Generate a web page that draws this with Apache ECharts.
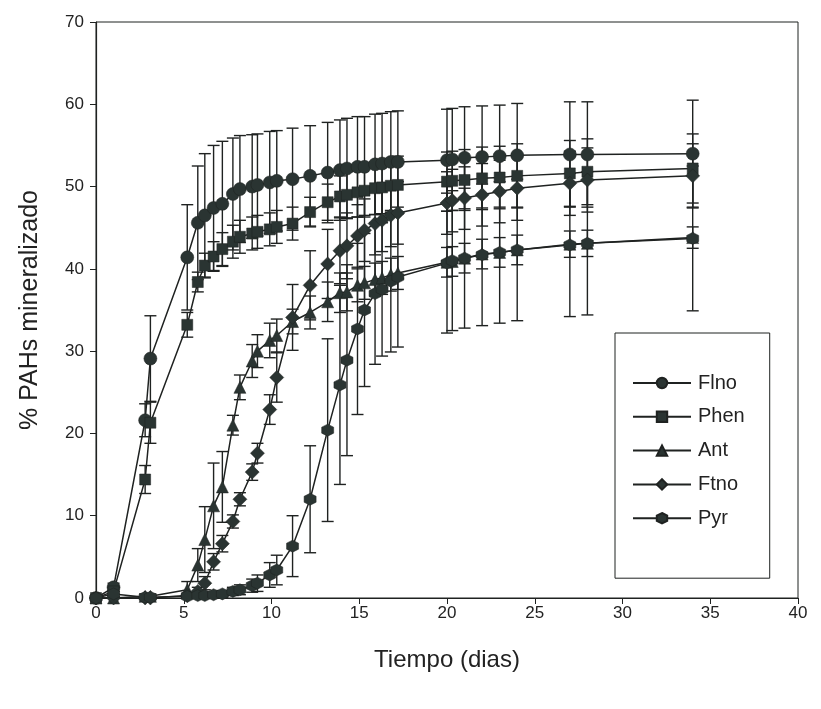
<!DOCTYPE html>
<html>
<head>
<meta charset="utf-8">
<script src="https://cdn.jsdelivr.net/npm/echarts@6/dist/echarts.min.js"></script>
<style>
html,body{margin:0;padding:0;background:#fff;}
#chart{width:821px;height:709px;}
</style>
</head>
<body>
<div id="chart"></div>
<script>
// Time points (dias)
const dias = [0, 1, 2.8, 3.1, 5.2, 5.8, 6.2, 6.7, 7.2, 7.8, 8.2, 8.9, 9.2, 9.9, 10.3, 11.2, 12.2, 13.2, 13.9, 14.3, 14.9, 15.3, 15.9, 16.3, 16.8, 17.2, 20, 20.3, 21, 22, 23, 24, 27, 28, 34];

const flno    = [0, 1.3, 21.6, 29.1, 41.4, 45.6, 46.5, 47.4, 47.9, 49.1, 49.7, 50.0, 50.2, 50.5, 50.7, 50.9, 51.3, 51.7, 52.0, 52.2, 52.4, 52.4, 52.7, 52.8, 53.0, 53.0, 53.2, 53.3, 53.5, 53.6, 53.7, 53.8, 53.9, 53.9, 54.0];
const flnoErr = [0, 0.5, 2.0, 5.2, 6.4, 6.9, 7.5, 7.6, 7.6, 6.8, 6.5, 6.3, 6.2, 6.2, 6.1, 6.2, 6.1, 6.1, 6.1, 6.1, 6.1, 6.1, 6.1, 6.1, 6.1, 6.2, 6.2, 6.2, 6.2, 6.2, 6.2, 6.3, 6.4, 6.4, 6.5];

const phen    = [0, 0.8, 14.4, 21.3, 33.2, 38.4, 40.4, 41.5, 42.4, 43.3, 43.9, 44.3, 44.5, 44.8, 45.1, 45.5, 46.9, 48.1, 48.8, 49.0, 49.3, 49.5, 49.8, 49.9, 50.1, 50.2, 50.6, 50.7, 50.8, 51.0, 51.1, 51.3, 51.6, 51.8, 52.2];
const phenErr = [0, 0.3, 1.7, 2.5, 1.5, 1.2, 1.5, 1.8, 2.0, 2.0, 2.0, 2.0, 2.0, 2.0, 2.0, 2.0, 1.8, 2.2, 2.5, 2.8, 3.0, 3.0, 3.2, 3.2, 3.3, 3.5, 3.6, 3.6, 3.7, 3.8, 3.8, 3.9, 4.0, 4.0, 4.2];

const ant     = [0, 0, 0.2, 0.2, 1.0, 4.0, 7.1, 11.2, 13.5, 21.0, 25.6, 28.8, 30.0, 31.3, 31.9, 33.6, 34.7, 36.0, 37.1, 37.2, 38.0, 38.3, 38.7, 38.9, 39.3, 39.5, 40.8, 40.9, 41.3, 41.8, 42.0, 42.3, 43.0, 43.1, 43.8];
const antErr  = [0, 0, 0.3, 0.3, 1.0, 2.0, 4.0, 5.2, 4.3, 1.2, 1.5, 2.0, 2.0, 2.1, 2.0, 1.5, 2.0, 2.4, 2.4, 2.3, 2.0, 2.0, 2.0, 2.0, 2.0, 2.0, 1.8, 1.8, 1.8, 1.8, 1.8, 1.8, 1.6, 1.6, 1.3];

const ftno    = [0, 0, 0, 0, 0.3, 0.8, 1.8, 4.4, 6.6, 9.3, 12.0, 15.3, 17.6, 22.9, 26.8, 34.1, 38.0, 40.6, 42.2, 42.8, 44.0, 44.7, 45.5, 45.9, 46.5, 46.8, 48.0, 48.3, 48.6, 49.0, 49.4, 49.8, 50.4, 50.8, 51.3];
const ftnoErr = [0, 0, 0, 0, 0.3, 0.5, 0.8, 1.0, 1.0, 0.8, 0.8, 1.0, 1.2, 1.8, 3.0, 4.0, 4.2, 4.2, 4.0, 4.0, 3.8, 3.8, 3.8, 3.8, 3.8, 3.8, 3.8, 3.8, 3.8, 3.8, 3.8, 3.9, 3.9, 3.9, 3.9];

const pyr     = [0, 0.5, 0.1, 0.1, 0.2, 0.3, 0.3, 0.4, 0.5, 0.8, 1.0, 1.5, 1.8, 2.8, 3.4, 6.3, 12.0, 20.4, 25.9, 28.9, 32.7, 35.0, 37.0, 37.5, 38.5, 39.0, 40.7, 41.0, 41.3, 41.7, 42.0, 42.3, 42.9, 43.1, 43.7];
const pyrErr  = [0, 0.3, 0, 0, 0.2, 0.2, 0.2, 0.3, 0.4, 0.5, 0.6, 0.8, 1.0, 1.5, 1.8, 3.7, 6.5, 11.1, 12.1, 11.6, 10.4, 9.3, 8.6, 8.1, 8.6, 8.5, 8.5, 8.5, 8.5, 8.6, 8.6, 8.6, 8.7, 8.7, 8.8];

const xTicks = [0, 5, 10, 15, 20, 25, 30, 35, 40];
const yTicks = [0, 10, 20, 30, 40, 50, 60, 70];

const FONT = '"Liberation Sans", Arial, sans-serif';
const LINE = '#1f2221';
const MARK = '#2a3432';
const HEX = 'path://M0,-10L8.66,-5L8.66,5L0,10L-8.66,5L-8.66,-5Z';

const seriesDefs = [
  {name: 'Flno', vals: flno, err: flnoErr, symbol: 'circle', size: 13},
  {name: 'Phen', vals: phen, err: phenErr, symbol: 'rect', size: 11},
  {name: 'Ant',  vals: ant,  err: antErr,  symbol: 'triangle', size: 12},
  {name: 'Ftno', vals: ftno, err: ftnoErr, symbol: 'diamond', size: 14},
  {name: 'Pyr',  vals: pyr,  err: pyrErr,  symbol: HEX, size: 12}
];

function renderErr(params, api) {
  const x = api.value(0), lo = api.value(1), hi = api.value(2);
  if (hi - lo < 0.05) return null;
  const p1 = api.coord([x, hi]);
  const p2 = api.coord([x, lo]);
  const hw = 6;
  const style = {stroke: LINE, lineWidth: 1.4, fill: null};
  return {
    type: 'group',
    children: [
      {type: 'line', shape: {x1: p1[0], y1: p1[1], x2: p2[0], y2: p2[1]}, style: style},
      {type: 'line', shape: {x1: p1[0] - hw, y1: p1[1], x2: p1[0] + hw, y2: p1[1]}, style: style},
      {type: 'line', shape: {x1: p2[0] - hw, y1: p2[1], x2: p2[0] + hw, y2: p2[1]}, style: style}
    ]
  };
}

const series = [];
seriesDefs.forEach(function (d) {
  series.push({
    type: 'custom',
    name: d.name + '_err',
    renderItem: renderErr,
    encode: {x: 0, y: [1, 2]},
    data: dias.map(function (t, i) { return [t, d.vals[i] - d.err[i], d.vals[i] + d.err[i]]; }),
    z: 1,
    silent: true,
    clip: false
  });
});
seriesDefs.forEach(function (d) {
  series.push({
    type: 'line',
    name: d.name,
    data: dias.map(function (t, i) { return [t, d.vals[i]]; }),
    symbol: d.symbol,
    symbolSize: d.size,
    showAllSymbol: true,
    lineStyle: {color: LINE, width: 1.5},
    itemStyle: {color: MARK, borderColor: LINE, borderWidth: 0.5},
    z: 3,
    animation: false
  });
});

const chart = echarts.init(document.getElementById('chart'), null, {renderer: 'canvas'});
chart.setOption({
  backgroundColor: '#ffffff',
  animation: false,
  grid: {
    left: 96, right: 23, top: 22, bottom: 111,
    show: true, borderColor: LINE, borderWidth: 1, backgroundColor: 'transparent'
  },
  xAxis: {
    type: 'value',
    min: xTicks[0], max: xTicks[xTicks.length - 1], interval: 5,
    name: 'Tiempo (dias)',
    nameLocation: 'middle',
    nameGap: 50,
    nameTextStyle: {fontFamily: FONT, fontSize: 24, color: '#222'},
    axisLine: {show: true, lineStyle: {color: LINE, width: 1.2}},
    axisTick: {show: true, inside: false, length: 6, lineStyle: {color: LINE}},
    axisLabel: {fontFamily: FONT, fontSize: 17, color: '#222', margin: 7},
    splitLine: {show: false}
  },
  yAxis: {
    type: 'value',
    min: yTicks[0], max: yTicks[yTicks.length - 1], interval: 10,
    name: '% PAHs mineralizado',
    nameLocation: 'middle',
    nameGap: 53,
    nameRotate: 90,
    nameTextStyle: {fontFamily: FONT, fontSize: 25, color: '#222'},
    axisLine: {show: true, lineStyle: {color: LINE, width: 1.2}},
    axisTick: {show: true, inside: false, length: 6, lineStyle: {color: LINE}},
    axisLabel: {fontFamily: FONT, fontSize: 17, color: '#222', margin: 12},
    splitLine: {show: false}
  },
  legend: {
    data: seriesDefs.map(function (d) { return d.name; }),
    orient: 'vertical',
    left: 615, top: 333,
    padding: [40, 25, 50, 17],
    itemWidth: 58, itemHeight: 13,
    itemGap: 13.8,
    borderColor: LINE, borderWidth: 1,
    backgroundColor: '#fff',
    textStyle: {fontFamily: FONT, fontSize: 20, color: '#222', padding: [0, 0, 0, 2]}
  },
  series: series
});
</script>
</body>
</html>
